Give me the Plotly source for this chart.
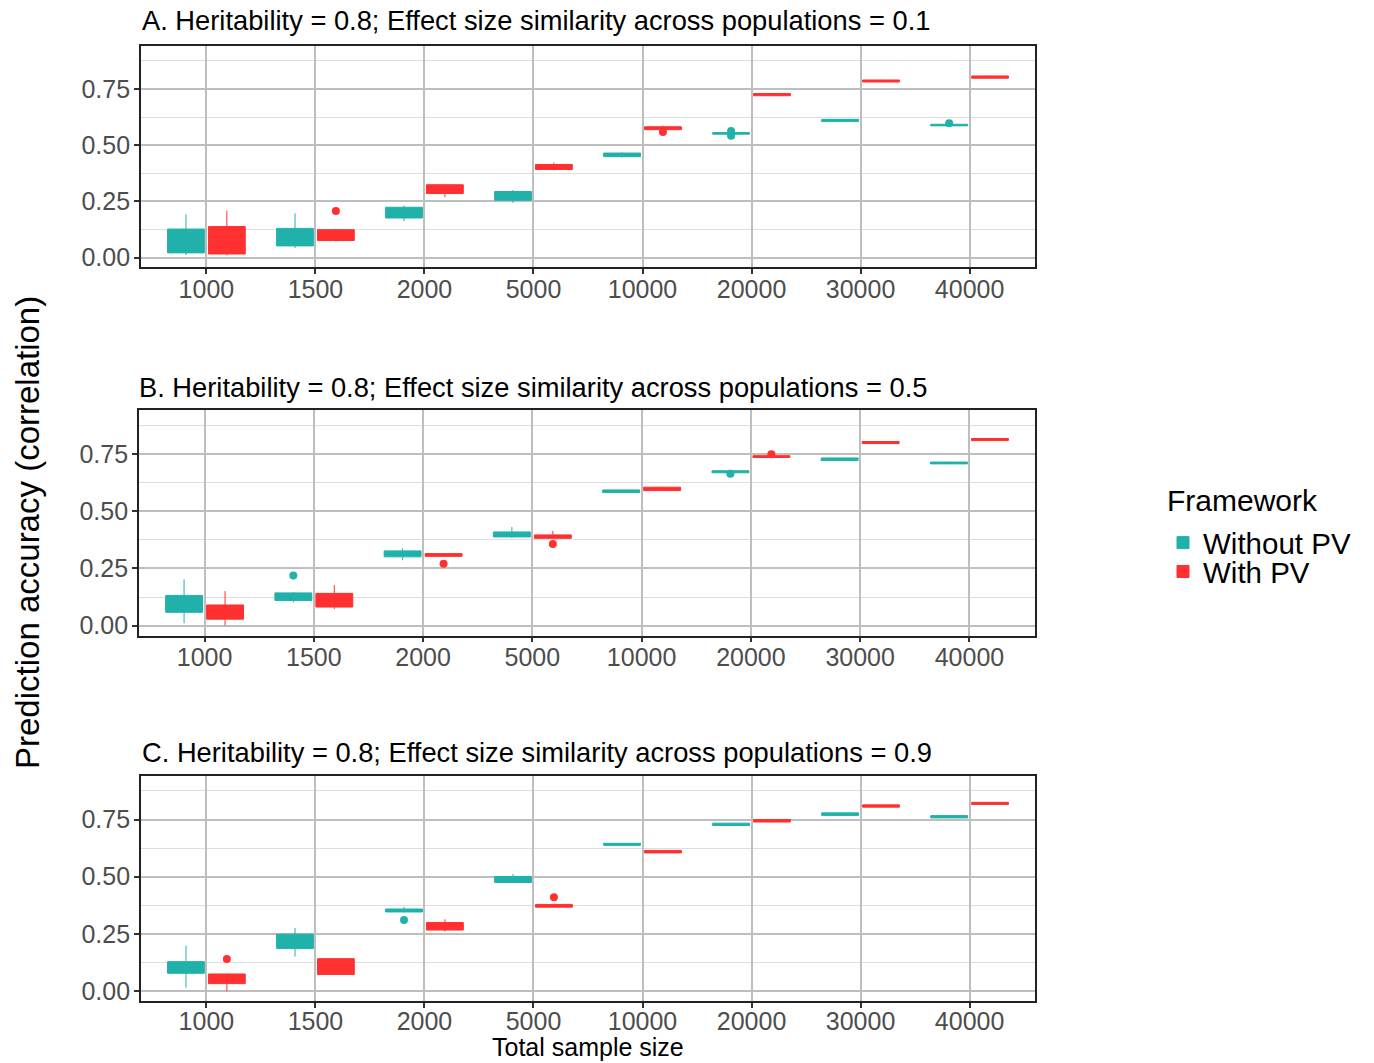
import plotly.graph_objects as go

W, H = 1374, 1063

categories = ["1000", "1500", "2000", "5000", "10000", "20000", "30000", "40000"]
frameworks = ["Without PV", "With PV"]
colors = {"Without PV": "#20B2AA", "With PV": "#FF3030"}

panel_titles = [
    "A. Heritability = 0.8; Effect size similarity across populations = 0.1",
    "B. Heritability = 0.8; Effect size similarity across populations = 0.5",
    "C. Heritability = 0.8; Effect size similarity across populations = 0.9",
]

# ---- Panel A ----
a_wo_lower = [0.011, 0.042, 0.163, 0.243, 0.446, 0.547, 0.603, 0.584]
a_wo_q1    = [0.021, 0.052, 0.176, 0.255, 0.449, 0.549, 0.605, 0.586]
a_wo_med   = [0.070, 0.090, 0.200, 0.275, 0.457, 0.553, 0.610, 0.589]
a_wo_q3    = [0.127, 0.130, 0.224, 0.294, 0.465, 0.556, 0.615, 0.593]
a_wo_upper = [0.192, 0.197, 0.231, 0.301, 0.468, 0.558, 0.617, 0.595]
a_wo_out_x = ["20000", "20000", "40000"]
a_wo_out_y = [0.563, 0.542, 0.598]

a_w_lower = [0.010, 0.072, 0.269, 0.388, 0.567, 0.719, 0.780, 0.797]
a_w_q1    = [0.016, 0.076, 0.285, 0.392, 0.569, 0.720, 0.781, 0.798]
a_w_med   = [0.070, 0.100, 0.300, 0.403, 0.575, 0.725, 0.785, 0.803]
a_w_q3    = [0.138, 0.124, 0.324, 0.414, 0.582, 0.730, 0.790, 0.808]
a_w_upper = [0.209, 0.128, 0.328, 0.423, 0.588, 0.731, 0.791, 0.809]
a_w_out_x = ["1500", "10000"]
a_w_out_y = [0.207, 0.559]

# ---- Panel B ----
b_wo_lower = [0.010, 0.101, 0.286, 0.384, 0.582, 0.668, 0.722, 0.707]
b_wo_q1    = [0.058, 0.110, 0.301, 0.388, 0.583, 0.669, 0.723, 0.708]
b_wo_med   = [0.090, 0.125, 0.315, 0.400, 0.588, 0.673, 0.728, 0.712]
b_wo_q3    = [0.132, 0.143, 0.327, 0.410, 0.594, 0.678, 0.734, 0.716]
b_wo_upper = [0.202, 0.146, 0.338, 0.432, 0.595, 0.679, 0.735, 0.717]
b_wo_out_x = ["1500", "20000"]
b_wo_out_y = [0.219, 0.665]

b_w_lower = [0.001, 0.072, 0.302, 0.381, 0.590, 0.735, 0.796, 0.809]
b_w_q1    = [0.028, 0.081, 0.303, 0.382, 0.591, 0.736, 0.797, 0.810]
b_w_med   = [0.060, 0.110, 0.309, 0.389, 0.598, 0.740, 0.801, 0.814]
b_w_q3    = [0.090, 0.141, 0.315, 0.397, 0.606, 0.744, 0.806, 0.819]
b_w_upper = [0.151, 0.177, 0.316, 0.415, 0.607, 0.745, 0.807, 0.820]
b_w_out_x = ["2000", "5000", "20000"]
b_w_out_y = [0.271, 0.357, 0.750]

# ---- Panel C ----
c_wo_lower = [0.015, 0.151, 0.345, 0.474, 0.636, 0.723, 0.767, 0.756]
c_wo_q1    = [0.078, 0.186, 0.346, 0.475, 0.637, 0.724, 0.768, 0.757]
c_wo_med   = [0.100, 0.220, 0.352, 0.488, 0.641, 0.728, 0.773, 0.761]
c_wo_q3    = [0.129, 0.249, 0.359, 0.501, 0.646, 0.734, 0.779, 0.767]
c_wo_upper = [0.199, 0.276, 0.369, 0.512, 0.647, 0.735, 0.780, 0.768]
c_wo_out_x = ["2000"]
c_wo_out_y = [0.311]

c_w_lower = [0.000, 0.072, 0.260, 0.366, 0.603, 0.738, 0.803, 0.815]
c_w_q1    = [0.033, 0.073, 0.267, 0.367, 0.604, 0.739, 0.804, 0.816]
c_w_med   = [0.050, 0.100, 0.285, 0.373, 0.609, 0.744, 0.808, 0.820]
c_w_q3    = [0.075, 0.142, 0.300, 0.379, 0.615, 0.750, 0.814, 0.825]
c_w_upper = [0.077, 0.143, 0.314, 0.380, 0.616, 0.751, 0.815, 0.826]
c_w_out_x = ["1000", "5000"]
c_w_out_y = [0.140, 0.410]

y_tickvals = [0.0, 0.25, 0.5, 0.75]
y_ticktext = ["0.00", "0.25", "0.50", "0.75"]
y_minor = [0.125, 0.375, 0.625, 0.875]

panels = [
    {"Without PV": (a_wo_lower, a_wo_q1, a_wo_med, a_wo_q3, a_wo_upper, a_wo_out_x, a_wo_out_y),
     "With PV": (a_w_lower, a_w_q1, a_w_med, a_w_q3, a_w_upper, a_w_out_x, a_w_out_y)},
    {"Without PV": (b_wo_lower, b_wo_q1, b_wo_med, b_wo_q3, b_wo_upper, b_wo_out_x, b_wo_out_y),
     "With PV": (b_w_lower, b_w_q1, b_w_med, b_w_q3, b_w_upper, b_w_out_x, b_w_out_y)},
    {"Without PV": (c_wo_lower, c_wo_q1, c_wo_med, c_wo_q3, c_wo_upper, c_wo_out_x, c_wo_out_y),
     "With PV": (c_w_lower, c_w_q1, c_w_med, c_w_q3, c_w_upper, c_w_out_x, c_w_out_y)},
]

# panel pixel boxes (left, top, right, bottom)
panel_px = [(141, 46, 1035, 268.5), (139, 412, 1035, 638), (141, 778.5, 1035, 1005)]
title_px = [(141, 21), (138, 388.5), (141, 755)]
xlabel_standoff = [-6, -6, -8]
legend_ref = {"Without PV": ("legend", 545), "With PV": ("legend2", 574)}

FONT = "Liberation Sans, Arial, Helvetica, sans-serif"

fig = go.Figure()
for p, data in enumerate(panels):
    ax = "" if p == 0 else str(p + 1)
    for fw in frameworks:
        lo, q1, med, q3, hi, ox, oy = data[fw]
        fig.add_trace(go.Box(
            x=categories, lowerfence=lo, q1=q1, median=med, q3=q3, upperfence=hi,
            name=fw, legendgroup=fw, showlegend=(p == 0), offsetgroup=fw,
            legend=legend_ref[fw][0], whiskerwidth=0,
            fillcolor=colors[fw], line=dict(color=colors[fw], width=1),
            xaxis="x" + ax, yaxis="y" + ax, hoverinfo="skip",
        ))
        fig.add_trace(go.Scatter(
            x=ox, y=oy, mode="markers", name=fw, legendgroup=fw, showlegend=False,
            offsetgroup=fw, marker=dict(color=colors[fw], size=8),
            xaxis="x" + ax, yaxis="y" + ax, hoverinfo="skip",
        ))

layout = dict(
    width=W, height=H, margin=dict(l=0, r=0, t=0, b=0),
    paper_bgcolor="white", plot_bgcolor="white",
    boxmode="group", boxgap=0.25, boxgroupgap=0.1,
    scattermode="group", scattergap=0.25,
    font=dict(family=FONT, color="black"),
    annotations=[],
)
for fw in frameworks:
    lg, ypx = legend_ref[fw]
    layout[lg] = dict(
        font=dict(size=29.5, color="black", family=FONT),
        x=1163 / W, y=1 - ypx / H, xanchor="left", yanchor="middle",
        bgcolor="rgba(0,0,0,0)", itemwidth=30,
    )

for p in range(3):
    l, t, r, b = panel_px[p]
    ax = "" if p == 0 else str(p + 1)
    layout["xaxis" + ax] = dict(
        domain=[l / W, r / W], anchor="y" + ax, type="category",
        categoryorder="array", categoryarray=categories,
        range=[-0.6, 7.6], showgrid=True, gridcolor="#BEBEBE", gridwidth=1.5,
        showline=True, mirror=True, linecolor="#222222", linewidth=1.8,
        ticks="outside", ticklen=5, tickwidth=1.5, tickcolor="#333333",
        ticklabelstandoff=xlabel_standoff[p],
        tickfont=dict(size=25, color="#4D4D4D", family=FONT), zeroline=False,
    )
    layout["yaxis" + ax] = dict(
        domain=[1 - b / H, 1 - t / H], anchor="x" + ax,
        range=[-0.044, 0.942], tickmode="array", tickvals=y_tickvals, ticktext=y_ticktext,
        showgrid=True, gridcolor="#BEBEBE", gridwidth=1.5,
        minor=dict(tickmode="array", tickvals=y_minor, showgrid=True,
                   gridcolor="#DEDEDE", gridwidth=1, ticks=""),
        showline=True, mirror=True, linecolor="#222222", linewidth=1.8,
        ticks="outside", ticklen=5, tickwidth=1.5, tickcolor="#333333",
        ticklabelstandoff=-1,
        tickfont=dict(size=25, color="#4D4D4D", family=FONT), zeroline=False,
    )
    tx, ty = title_px[p]
    layout["annotations"].append(dict(
        text=panel_titles[p], x=tx / W, y=1 - ty / H, xref="paper", yref="paper",
        xanchor="left", yanchor="middle", showarrow=False, xshift=-1,
        font=dict(size=27.3, color="black", family=FONT),
    ))

layout["annotations"].append(dict(
    text="Prediction accuracy (correlation)", x=28 / W, y=1 - 535 / H,
    xref="paper", yref="paper", textangle=-90, showarrow=False,
    xanchor="center", yanchor="middle", font=dict(size=33, color="black", family=FONT),
))
layout["annotations"].append(dict(
    text="Total sample size", x=588 / W, y=1 - 1051 / H,
    xref="paper", yref="paper", showarrow=False,
    xanchor="center", yanchor="middle", font=dict(size=25, color="black", family=FONT),
))
layout["annotations"].append(dict(
    text="Framework", x=1165 / W, y=1 - 502 / H,
    xref="paper", yref="paper", showarrow=False,
    xanchor="left", yanchor="middle", font=dict(size=30, color="black", family=FONT),
))

fig.update_layout(**layout)
fig.write_html("out.html", config={"displayModeBar": False},
               post_script="document.body.style.margin='0px';document.body.style.padding='0px';")
